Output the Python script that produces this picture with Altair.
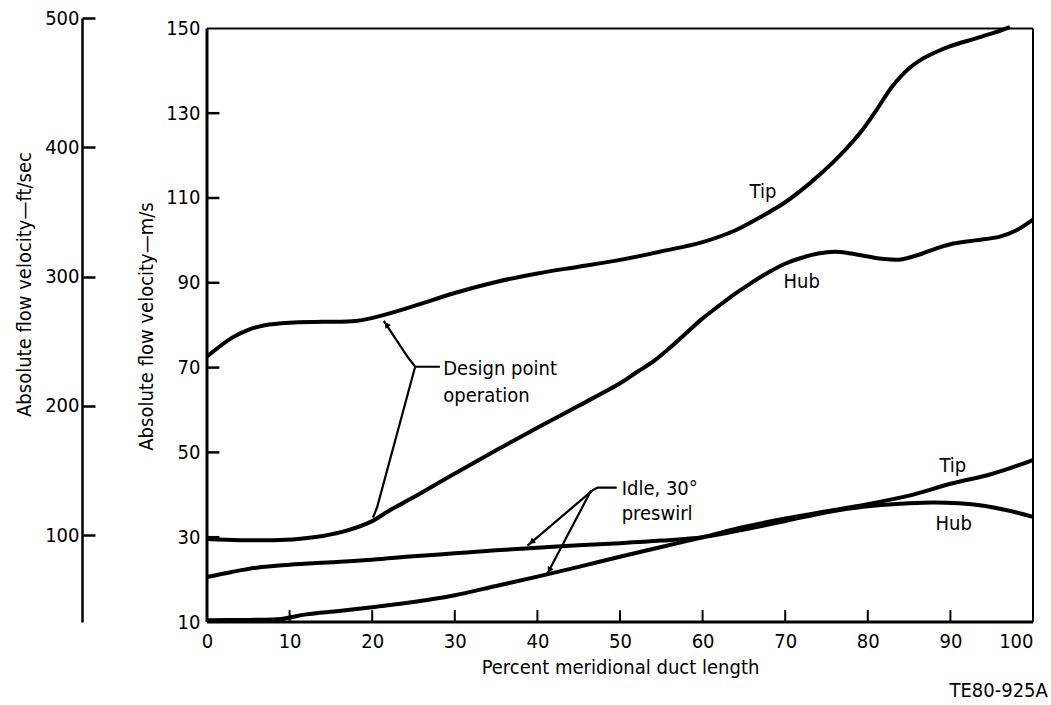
import altair as alt
import pandas as pd

FONT = "'DejaVu Sans Condensed', 'Liberation Sans Narrow', Roboto, sans-serif"
FS = 20
MS_TO_FTS = 3.2808

# ---------------- data ----------------
x_ticks = [0, 10, 20, 30, 40, 50, 60, 70, 80, 90, 100]
y_ticks = [10, 30, 50, 70, 90, 110, 130, 150]
ft_ticks = [100, 200, 300, 400, 500]

design_tip_x = [0, 3, 5, 7, 10, 14, 18, 21, 25, 30, 35, 40, 45, 50, 55, 60, 64, 67, 70, 73, 76, 79, 81, 83, 85, 86.5, 88, 90, 93, 95.5, 97.2]
design_tip_v = [72.6, 77.0, 78.9, 80.0, 80.6, 80.8, 81.0, 82.2, 84.5, 87.6, 90.2, 92.2, 93.8, 95.4, 97.4, 99.6, 102.4, 105.5, 109.0, 113.5, 118.8, 125.2, 130.6, 136.4, 140.6, 142.7, 144.2, 145.8, 147.6, 149.1, 150.3]

design_hub_x = [0, 4, 8, 11, 14, 17, 20, 22, 25, 30, 35, 40, 45, 50, 52, 54, 56, 58, 60, 62, 64, 66, 68, 70, 72, 74, 76, 78, 80, 82, 84, 86, 88, 90, 93, 96, 98, 100]
design_hub_v = [29.6, 29.3, 29.3, 29.6, 30.3, 31.6, 33.8, 36.2, 39.4, 45.0, 50.5, 55.8, 61.0, 66.3, 68.9, 71.4, 74.6, 78.1, 81.6, 84.6, 87.5, 90.1, 92.5, 94.5, 95.9, 96.9, 97.3, 96.9, 96.2, 95.6, 95.5, 96.5, 97.9, 99.1, 100.0, 100.9, 102.4, 104.9]

idle_tip_x = [0, 5, 9, 12, 16, 20, 25, 30, 35, 40, 45, 50, 55, 60, 65, 70, 75, 80, 85, 90, 95, 100]
idle_tip_v = [10.4, 10.5, 10.7, 11.8, 12.6, 13.5, 14.7, 16.3, 18.5, 20.7, 23.0, 25.4, 27.7, 30.0, 32.4, 34.4, 36.1, 37.8, 39.8, 42.6, 44.9, 48.2]

idle_hub_x = [0, 3, 6, 10, 15, 20, 25, 30, 35, 40, 45, 50, 55, 60, 65, 70, 75, 80, 85, 88, 91, 94, 97, 100]
idle_hub_v = [20.6, 21.8, 22.8, 23.5, 24.1, 24.7, 25.5, 26.2, 26.9, 27.5, 28.1, 28.6, 29.2, 30.0, 31.8, 33.8, 35.9, 37.3, 38.0, 38.2, 38.0, 37.4, 36.3, 34.8]

# leader lines (polylines in data units)
leader_id = ["d1", "d1", "d1", "d1", "d2", "d2", "d2", "i1", "i1", "i1", "i1", "i2", "i2"]
leader_x = [21.4, 24.3, 25.2, 28.2, 25.2, 20.6, 20.1, 38.8, 46.7, 47.3, 49.6, 41.2, 46.5]
leader_v = [81.0, 72.5, 70.2, 70.2, 70.2, 37.1, 34.6, 28.0, 41.1, 41.7, 41.7, 21.4, 41.0]

arrow_x = [21.8, 39.4, 41.5]
arrow_v = [80.0, 29.0, 22.4]
arrow_angle = [326, 230, 209]

label_text = ["Tip", "Hub", "Tip", "Hub", "Design point", "operation", "Idle, 30°", "preswirl"]
label_x = [67.3, 72.0, 90.3, 90.4, 28.6, 28.6, 50.2, 50.2]
label_v = [110.0, 88.8, 45.4, 31.6, 68.3, 62.0, 40.0, 34.1]
label_align = ["center", "center", "center", "center", "left", "left", "left", "left"]

# ---------------- layout constants ----------------
V_TOP = 152.45          # top of the ft/sec axis (500 ft/s) in m/s
PX_PER_X = 8.26         # pixels per percent of duct length
FT_OFFSET = 125         # pixels between the ft/sec axis and the m/s axis
X_LEFT = -FT_OFFSET / PX_PER_X
PLOT_W = round((100 - X_LEFT) * PX_PER_X)
TICK_LEN = 13

# ---------------- tables ----------------
rows = []
for name, xs, vs in [("Design tip", design_tip_x, design_tip_v),
                     ("Design hub", design_hub_x, design_hub_v),
                     ("Idle tip", idle_tip_x, idle_tip_v),
                     ("Idle hub", idle_hub_x, idle_hub_v)]:
    for i, (a, b) in enumerate(zip(xs, vs)):
        rows.append({"series": name, "x": a, "v": b, "o": i})
curves = pd.DataFrame(rows)

leaders = pd.DataFrame({"id": leader_id, "x": leader_x, "v": leader_v,
                        "o": list(range(len(leader_id)))})
arrows = pd.DataFrame({"x": arrow_x, "v": arrow_v, "a": arrow_angle})
labels = pd.DataFrame({"t": label_text, "x": label_x, "v": label_v, "al": label_align})
y0, y1 = y_ticks[0], y_ticks[-1]
frame = pd.DataFrame({"x": [0, 0, 100, 0], "x2": [0, 100, 100, 100],
                      "v": [y0, y1, y0, y0], "v2": [y1, y1, y1, y0],
                      "w": [3, 2, 2, 3]})
yt = pd.DataFrame({"v": y_ticks[1:-1]})
xt = pd.DataFrame({"x": x_ticks[1:-1]})
ft = pd.DataFrame({"ft": ft_ticks})

xscale = alt.Scale(domain=[X_LEFT, 100], nice=False, zero=False)
yscale = alt.Scale(domain=[10, V_TOP], nice=False, zero=False)

X = alt.X("x:Q", scale=xscale, axis=alt.Axis(
    values=x_ticks, title="Percent meridional duct length", tickSize=0, ticks=False,
    domain=False, grid=False,
    labelPadding=9, labelFontSize=FS, labelColor="black",
    titleFontSize=FS, titleFontWeight="normal", titleColor="black",
    titleBaseline="alphabetic", titleAlign="center", titleY=51,
    titleX=round(50 * PX_PER_X + FT_OFFSET)))
Y = alt.Y("v:Q", scale=yscale, axis=alt.Axis(
    values=y_ticks, title="Absolute flow velocity—m/s", tickSize=0, ticks=False,
    offset=-FT_OFFSET,
    domain=False, grid=False, labelPadding=7, labelFontSize=FS, labelColor="black",
    titleFontSize=FS, titleFontWeight="normal", titleColor="black", titleAngle=270,
    titleAlign="center", titleBaseline="middle", titleX=-61, titleY=308))

Xn = alt.X("x:Q", scale=xscale)
Yn = alt.Y("v:Q", scale=yscale)

lines = alt.Chart(curves).mark_line(color="black", strokeWidth=4, interpolate="catmull-rom").encode(
    x=X, y=Y, detail="series:N", order="o:Q")

frame_l = alt.Chart(frame).mark_rule(color="black").encode(
    x=Xn, x2="x2:Q", y=Yn, y2="v2:Q", strokeWidth=alt.StrokeWidth("w:Q", scale=None))

ytick_l = alt.Chart(yt).mark_rule(color="black", strokeWidth=2.5).encode(
    x=alt.datum(0), x2=alt.datum(1.5), y=Yn)
xtick_l = alt.Chart(xt).mark_rule(color="black", strokeWidth=2).encode(
    x=Xn, y=alt.datum(10), y2=alt.datum(12.8))

leader_l = alt.Chart(leaders).mark_line(color="black", strokeWidth=2.2).encode(
    x=Xn, y=Yn, detail="id:N", order="o:Q")
arrow_l = alt.Chart(arrows).mark_point(shape="triangle", filled=True, color="black",
                                       size=45, opacity=1).encode(
    x=Xn, y=Yn, angle=alt.Angle("a:Q", scale=None))

text_c = alt.Chart(labels[labels.al == "center"]).mark_text(
    font=FONT, fontSize=FS, color="black", baseline="alphabetic", align="center").encode(
    x=Xn, y=Yn, text="t:N")
text_left = alt.Chart(labels[labels.al == "left"]).mark_text(
    font=FONT, fontSize=FS, color="black", baseline="alphabetic", align="left").encode(
    x=Xn, y=Yn, text="t:N")

code_l = alt.Chart(pd.DataFrame({"t": ["TE80-925A"]})).mark_text(
    font=FONT, fontSize=FS, color="black", baseline="alphabetic", align="right").encode(
    x=alt.datum(101.8), y=alt.datum(-7.7), text="t:N")

main = alt.layer(lines, frame_l, ytick_l, xtick_l, leader_l, arrow_l,
                 text_c, text_left, code_l)

# ft/sec axis: a right-oriented axis moved to the far left, so its ticks point
# into the chart (rightwards) while the labels are pulled to the left of the line
ft_layer = alt.Chart(ft).mark_point(opacity=0).encode(
    y=alt.Y("ft:Q",
            scale=alt.Scale(domain=[10 * MS_TO_FTS, V_TOP * MS_TO_FTS], nice=False, zero=False),
            axis=alt.Axis(orient="right", offset=-PLOT_W, values=ft_ticks,
                          title="Absolute flow velocity—ft/sec",
                          ticks=True, tickSize=TICK_LEN, tickWidth=2.5, tickColor="black",
                          domain=True, domainWidth=2.5, domainColor="black", grid=False,
                          labelAlign="right", labelPadding=-(TICK_LEN + 3),
                          labelFontSize=FS, labelColor="black",
                          titleFontSize=FS, titleFontWeight="normal", titleColor="black",
                          titleAngle=270, titleAlign="center", titleBaseline="middle",
                          titleX=-58, titleY=266)),
    x=alt.datum(0))

chart = alt.layer(main, ft_layer).resolve_scale(y="independent").properties(
    width=PLOT_W, height=604,
    autosize=alt.AutoSizeParams(type="none"),
    padding={"left": 207 - FT_OFFSET, "top": 18, "right": 1051 - (207 - FT_OFFSET) - PLOT_W,
             "bottom": 83},
    background="white",
).configure_view(stroke=None).configure_axis(labelFont=FONT, titleFont=FONT)

chart.save("out.html", embed_options={"renderer": "svg", "actions": False})
